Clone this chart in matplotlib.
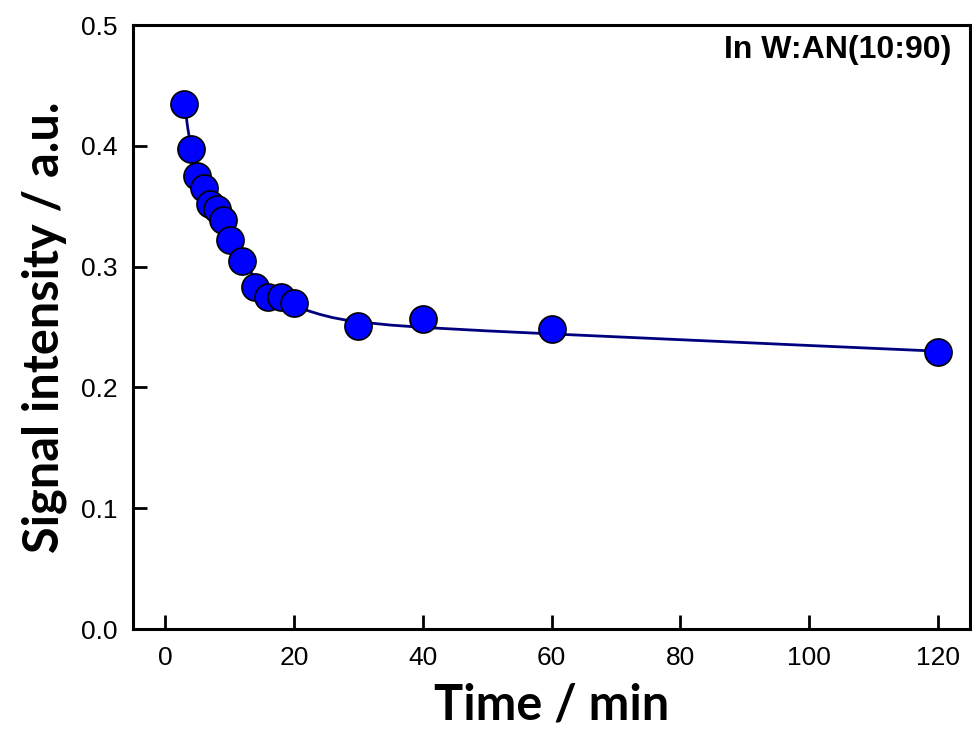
import matplotlib
matplotlib.use("Agg")
import matplotlib.pyplot as plt

# measured points (Time / min vs signal)
time_min = [3, 4, 5, 6, 7, 8, 9, 10, 12, 14, 16, 18, 20, 30, 40, 60, 120]
signal = [0.435, 0.397, 0.375, 0.365, 0.352, 0.348, 0.339, 0.322, 0.305,
          0.283, 0.275, 0.275, 0.270, 0.251, 0.257, 0.248, 0.229]

# fitted curve
fit_time = [3, 3.5, 4, 4.5, 5, 6, 7, 8, 9, 10, 11, 12, 13, 14, 15, 16, 17,
            18, 20, 22, 24, 26, 28, 30, 35, 40, 50, 60, 80, 100, 120]
fit_signal = [0.435, 0.415, 0.399, 0.388, 0.379, 0.364, 0.351, 0.340, 0.330,
              0.321, 0.312, 0.304, 0.297, 0.291, 0.285, 0.2805, 0.2765,
              0.2732, 0.2680, 0.2638, 0.2605, 0.2578, 0.2558, 0.2543,
              0.2516, 0.2497, 0.2468, 0.2443, 0.2395, 0.2347, 0.2300]

x_ticks = [0, 20, 40, 60, 80, 100, 120]
y_ticks = [0.0, 0.1, 0.2, 0.3, 0.4, 0.5]

fig = plt.figure(figsize=(9.72, 7.49), dpi=100)
ax = fig.add_axes([0.1368, 0.1602, 0.8612, 0.8064])

ax.plot(fit_time, fit_signal, color="#00007f", linewidth=2, zorder=2)
ax.plot(time_min, signal, linestyle="none", marker="o", markersize=19.5,
        markerfacecolor="#0000ff", markeredgecolor="black",
        markeredgewidth=1.2, zorder=3)

ax.set_xlim(-5, 125)
ax.set_ylim(0, 0.5)
ax.set_xticks(x_ticks)
ax.set_yticks(y_ticks)
ax.set_xticklabels([str(t) for t in x_ticks])
ax.set_yticklabels([f"{t:.1f}" for t in y_ticks])

for lab in ax.get_xticklabels() + ax.get_yticklabels():
    lab.set_fontfamily("Liberation Sans")
    lab.set_fontsize(19)

ax.tick_params(direction="in", length=10, width=2, top=False, right=False)
ax.tick_params(axis="x", pad=12)
ax.tick_params(axis="y", pad=11)
for sp in ax.spines.values():
    sp.set_linewidth(2.2)

ax.set_xlabel("Time / min", fontsize=35, fontweight="bold", family="Lato",
              labelpad=9)
ax.set_ylabel("Signal intensity / a.u.", fontsize=35, fontweight="bold",
              family="Lato", labelpad=10)

ax.text(0.978, 0.983, "In W:AN(10:90)", transform=ax.transAxes, ha="right",
        va="top", fontsize=23, fontweight="bold", family="Liberation Sans")

fig.savefig("out.png", dpi=100)
